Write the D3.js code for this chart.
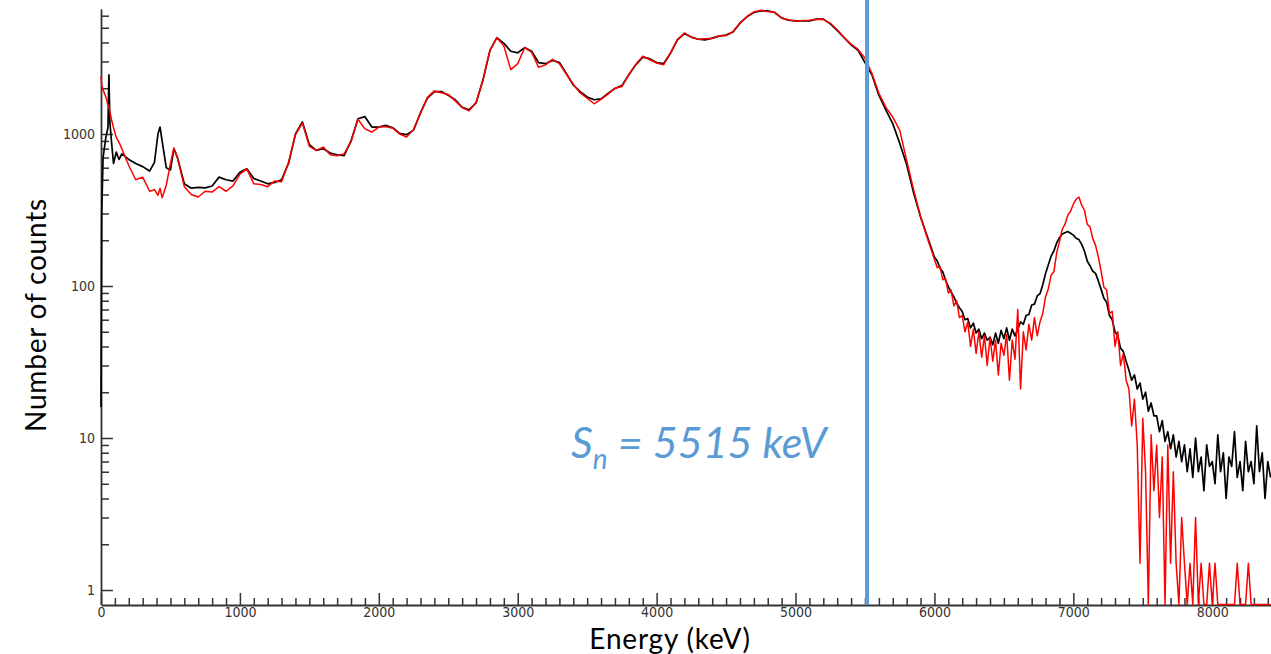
<!DOCTYPE html>
<html>
<head>
<meta charset="utf-8">
<script src="https://cdn.jsdelivr.net/npm/d3@7"></script>
<style>
  html, body { margin: 0; padding: 0; background: #fff; }
  svg { display: block; }
  .tick text { font-family: "Liberation Sans Narrow", "DejaVu Sans Condensed", sans-serif; font-size: 14px; fill: #333; }
  .title { font-family: Lato, "Open Sans", sans-serif; font-size: 28px; letter-spacing: 0.8px; fill: #000; }
</style>
</head>
<body>
<script>
// energies (keV): irregular head, 50 keV grid, 20 keV grid in the noisy tail
const headE = [0, 5, 15, 35, 50, 57, 64, 75, 90, 110, 130, 150, 200, 250, 300, 350, 385, 410, 425, 440, 470, 500, 525, 550, 600];
const energy = headE.concat(d3.range(650, 6000, 50), d3.range(6000, 8421, 20));

// black spectrum (counts)
const blackHead = [16, 300, 700, 950, 1100, 2450, 1200, 900, 640, 760, 680, 740, 680, 640, 610, 570, 650, 1000, 1110, 900, 600, 580, 800, 700, 470];
const blackMain = [
  440, 445, 442, 455, 520, 500, 490, 560, 590, 510,          // 650
  490, 470, 480, 500, 640, 1000, 1200, 850, 780, 800,        // 1150
  750, 730, 720, 900, 1260, 1300, 1110, 1110, 1140, 1100,    // 1650
  1010, 990, 1060, 1380, 1720, 1900, 1900, 1800, 1680, 1500, // 2150
  1440, 1600, 2270, 3550, 4300, 3950, 3500, 3420, 3700, 3500, // 2650
  2950, 2900, 3050, 2950, 2500, 2100, 1900, 1750, 1680, 1700, // 3150
  1850, 1990, 2080, 2450, 2850, 3200, 3130, 2950, 2900, 3400, // 3650
  4160, 4580, 4340, 4200, 4160, 4270, 4400, 4470, 4680, 5360, // 4150
  5900, 6300, 6450, 6450, 6300, 5800, 5600, 5550, 5550, 5550, // 4650
  5700, 5700, 5300, 4800, 4300, 3860, 3550, 2950, 2450, 1800, // 5150
  1440, 1170, 870, 630, 410, 285, 210                         // 5650
];
const blackTail = [
  155, 146, 131, 124, 109, 99, 91, 85, 77, 72,     // 6000
  68, 60, 61, 53, 57, 49, 52, 45, 49, 44,          // 6200
  46, 41, 49, 42, 51, 45, 53, 44, 52, 47,          // 6400
  52, 58, 56, 64, 65, 75, 76, 86, 89, 102,         // 6600
  121, 138, 157, 170, 192, 208, 220, 224, 228, 222, // 6800
  216, 206, 202, 188, 170, 146, 136, 125, 121, 108, // 7000
  95, 83, 78, 64, 60, 50, 47, 39, 37, 32,          // 7200
  28, 24, 26, 21, 23, 18, 20, 15, 17, 14,          // 7400
  14, 11, 13, 9.5, 11, 8.5, 10.5, 7.5, 9.5, 7,     // 7600
  9, 6, 8.5, 5.5, 10, 6, 7.5, 4.5, 9, 6.5,         // 7800
  7, 5, 10.5, 6, 8, 4, 7.5, 6.5, 11, 5.5,          // 8000
  7, 4.5, 9.5, 6, 7, 5, 12, 6, 8, 4,               // 8200
  7, 5.5                                           // 8400
];

// red spectrum (counts)
const redHead = [2400, 2100, 1950, 1750, 1550, 1500, 1400, 1250, 1100, 950, 880, 800, 620, 500, 520, 420, 430, 395, 440, 380, 460, 640, 810, 700, 450];
const redMain = [
  400, 385, 420, 415, 450, 420, 455, 545, 590, 470,          // 650
  465, 450, 490, 485, 650, 990, 1180, 830, 780, 820,         // 1150
  730, 720, 740, 890, 1250, 1080, 1030, 1110, 1120, 1090,    // 1650
  1000, 955, 1070, 1370, 1740, 1920, 1870, 1820, 1650, 1490, // 2150
  1420, 1610, 2250, 3550, 4300, 3800, 2650, 2900, 3700, 3450, // 2650
  2750, 2850, 3100, 2900, 2480, 2120, 1860, 1720, 1580, 1690, // 3150
  1830, 2000, 2050, 2460, 2870, 3250, 3080, 2930, 2850, 3420, // 3650
  4180, 4620, 4320, 4200, 4230, 4240, 4430, 4440, 4720, 5360, // 4150
  5920, 6350, 6520, 6400, 6320, 5780, 5650, 5520, 5580, 5600, // 4650
  5680, 5660, 5350, 4850, 4300, 3900, 3600, 3150, 2500, 1850, // 5150
  1500, 1290, 1060, 670, 430, 285, 205                        // 5650
];
const redTail = [
  150, 132, 134, 110, 112, 90, 94, 74, 80, 62,     // 6000
  64, 50, 58, 40, 52, 36, 50, 34, 47, 30,          // 6200
  46, 32, 44, 26, 42, 35, 48, 24, 44, 33,          // 6400
  70, 21, 50, 38, 56, 44, 62, 47, 58, 66,          // 6600
  85, 96, 118, 124, 165, 196, 236, 255, 292, 310,  // 6800
  345, 372, 385, 340, 315, 255, 245, 205, 185, 155, // 7000
  125, 98, 94, 66, 68, 40, 50, 30, 36, 24,         // 7200
  21, 12, 18, 9, 1.5, 13.5, 6, 0, 10.5, 4.5,       // 7400
  9, 3, 7.5, 0, 9, 1.5, 6, 1.5, 0, 3,              // 7600
  1.5, 0, 1.5, 0, 3, 0, 1.5, 0, 0, 1.5,            // 7800
  0, 1.5, 0, 0, 0, 0, 0, 0, 0, 1.5,                // 8000
  0, 0, 0, 1.5, 0, 0, 0, 0, 0, 0,                  // 8200
  0, 0                                             // 8400
];

const black = blackHead.concat(blackMain, blackTail);
const red = redHead.concat(redMain, redTail);
if (black.length !== energy.length || red.length !== energy.length) {
  console.warn("length mismatch", energy.length, black.length, red.length);
}

const xMajor = d3.range(0, 8001, 1000);
const xMinor = d3.range(0, 8401, 100).filter(d => d % 1000 !== 0);
const yMajor = [1, 10, 100, 1000];
const yMinor = [2, 3, 4, 5, 6, 7, 8, 9, 20, 30, 40, 50, 60, 70, 80, 90,
                200, 300, 400, 500, 600, 700, 800, 900, 2000, 3000, 4000, 5000, 6000];
const sn = 5515;

const w = 1271, h = 654;
const x0 = 101, xAxisY = 605;

const x = d3.scaleLinear().domain([0, 8423]).range([x0, w]);
const y = d3.scaleLog().domain([0.803, 6640]).range([xAxisY - 0.5, 9]);

const svg = d3.select("body").append("svg")
  .attr("width", w)
  .attr("height", h);

svg.append("rect").attr("width", w).attr("height", h).attr("fill", "#fff");

// minor ticks
svg.append("g")
  .attr("transform", "translate(0," + xAxisY + ")")
  .call(d3.axisBottom(x).tickValues(xMinor).tickSize(-7).tickFormat(""))
  .call(g => g.select(".domain").remove());
svg.append("g")
  .attr("transform", "translate(" + x0 + ",0)")
  .call(d3.axisLeft(y).tickValues(yMinor).tickSize(-8).tickFormat(""))
  .call(g => g.select(".domain").remove());

// major ticks with labels
svg.append("g")
  .attr("id", "x-axis")
  .attr("transform", "translate(0," + xAxisY + ")")
  .call(d3.axisBottom(x).tickValues(xMajor).tickSizeInner(-12).tickSizeOuter(0).tickPadding(2).tickFormat(d3.format("d")));
svg.append("g")
  .attr("id", "y-axis")
  .attr("transform", "translate(" + x0 + ",0)")
  .call(d3.axisLeft(y).tickValues(yMajor).tickSizeInner(-12).tickSizeOuter(0).tickPadding(6).tickFormat(d3.format("d")));

svg.selectAll(".tick line").attr("stroke", "#333").attr("stroke-width", 1.5);
svg.selectAll(".domain").attr("stroke", "#333").attr("stroke-width", 1.8);

// spectra
const line = d3.line()
  .x((d, i) => x(energy[i]))
  .y(d => y(Math.max(d, 0.803)));

svg.append("path")
  .datum(black)
  .attr("fill", "none")
  .attr("stroke", "#000")
  .attr("stroke-width", 1.7)
  .attr("stroke-linejoin", "round")
  .attr("d", line);

svg.append("path")
  .datum(red)
  .attr("fill", "none")
  .attr("stroke", "#ff0000")
  .attr("stroke-width", 1.5)
  .attr("stroke-linejoin", "round")
  .attr("d", line);

// separation energy marker
svg.append("line")
  .attr("x1", x(sn)).attr("x2", x(sn))
  .attr("y1", 0).attr("y2", xAxisY)
  .attr("stroke", "#5B9BD5")
  .attr("stroke-width", 4);

const lab = svg.append("text")
  .attr("x", 571)
  .attr("y", 458)
  .attr("fill", "#5B9BD5")
  .style("font-family", "Lato, 'Open Sans', sans-serif")
  .style("font-style", "italic")
  .style("font-size", "43px")
  .style("white-space", "pre");
lab.append("tspan").text("S");
lab.append("tspan").attr("dy", 11).style("font-size", "28px").text("n");
lab.append("tspan").attr("dy", -11).text(" = " + sn + " keV");

// axis titles
svg.append("text")
  .attr("class", "title")
  .attr("text-anchor", "middle")
  .attr("transform", "translate(46,315) rotate(-90)")
  .text("Number of counts");

svg.append("text")
  .attr("class", "title")
  .attr("text-anchor", "middle")
  .attr("x", 670)
  .attr("y", 648.5)
  .text("Energy (keV)");
</script>
</body>
</html>
